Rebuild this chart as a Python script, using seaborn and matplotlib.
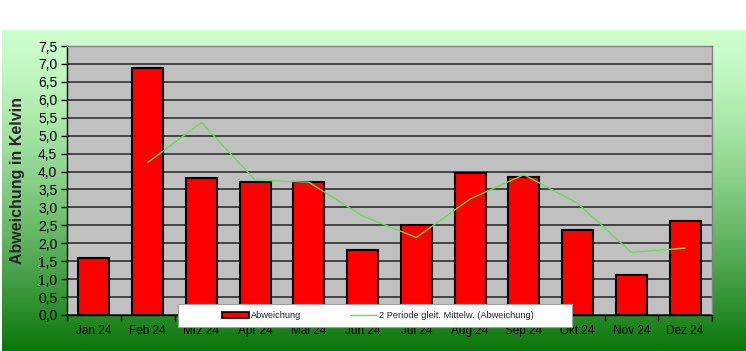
import numpy as np
import pandas as pd
import matplotlib
matplotlib.use('Agg')
import matplotlib.pyplot as plt
from matplotlib.patches import Patch, Rectangle
from matplotlib.lines import Line2D
from matplotlib.ticker import FuncFormatter, MultipleLocator
import seaborn as sns

months = ['Jan 24', 'Feb 24', 'Mrz 24', 'Apr 24', 'Mai 24', 'Jun 24',
          'Jul 24', 'Aug 24', 'Sep 24', 'Okt 24', 'Nov 24', 'Dez 24']
abweichung = [1.6, 6.9, 3.83, 3.7, 3.7, 1.82, 2.5, 3.97, 3.85, 2.38, 1.11, 2.62]

sns.set_theme(style='white')
plt.rcParams['font.family'] = ['Liberation Sans', 'DejaVu Sans']

df = pd.DataFrame({'Monat': months, 'Abweichung': abweichung})
# 2 Periode gleit. Mittelw.
df['Mittel'] = df['Abweichung'].rolling(2).mean()

fig = plt.figure(figsize=(7.46, 3.51), dpi=100)
fig.patch.set_facecolor('white')

# green gradient background
bg = fig.add_axes([2 / 746, 0, 744 / 746, 321 / 351], zorder=0)
t = np.linspace(0, 1, 256) ** 1.4
top = np.array([204, 255, 204]) / 255
bot = np.array([10, 118, 10]) / 255
grad = top[None, :] * (1 - t[:, None]) + bot[None, :] * t[:, None]
bg.imshow(grad[:, None, :], aspect='auto', extent=[0, 1, 0, 1])
bg.set_axis_off()

ax = fig.add_axes([67 / 746, 36 / 351, 645 / 746, 269 / 351], zorder=1)
ax.set_facecolor('#C0C0C0')

sns.barplot(data=df, x='Monat', y='Abweichung', ax=ax, color='#FF0000',
            saturation=1, width=0.58, edgecolor='black', linewidth=1.5, zorder=3)
ax.plot(np.arange(len(months)), df['Mittel'], color='#66DD55', lw=1.0, zorder=4)

ax.set_ylim(0, 7.5)
ax.set_xlim(-0.5, len(months) - 0.5)
ax.yaxis.set_major_locator(MultipleLocator(0.5))
ax.yaxis.set_major_formatter(FuncFormatter(lambda v, p: f'{v:.1f}'.replace('.', ',')))
ax.grid(axis='y', color='#3a3a3a', lw=1.3, zorder=1)
ax.set_axisbelow(True)

for s in ['top', 'right']:
    ax.spines[s].set_color('#808080')
    ax.spines[s].set_linewidth(1.0)
for s in ['left', 'bottom']:
    ax.spines[s].set_color('black')
    ax.spines[s].set_linewidth(1.0)

ax.tick_params(axis='y', direction='out', length=4, width=1, color='black',
               labelsize=10, pad=3, left=True)
ax.tick_params(axis='x', length=0, labelsize=8.5, pad=7)
ax.set_xticks(np.arange(-0.5, len(months), 1), minor=True)
ax.tick_params(axis='x', which='minor', direction='out', length=4, width=1,
               color='black', bottom=True)
ax.set_xlabel('')
ax.set_ylabel('Abweichung in Kelvin', fontsize=11.5, fontweight='bold', labelpad=9)
for lab in ax.get_xticklabels() + ax.get_yticklabels():
    lab.set_color('black')

# legend box (white frame) with entries centred inside
fig.patches.append(Rectangle((178 / 746, 24 / 351), 394 / 746, 23 / 351,
                             transform=fig.transFigure, facecolor='white',
                             edgecolor='#a0a0a0', lw=0.8, zorder=9))
handles = [Patch(facecolor='#FF0000', edgecolor='black', lw=1.2, label='Abweichung'),
           Line2D([0], [0], color='#66DD55', lw=1.0, label='2 Periode gleit. Mittelw. (Abweichung)')]
leg = fig.legend(handles=handles, loc='center', ncol=2,
                 bbox_to_anchor=(378 / 746, 35.5 / 351),
                 fontsize=6.7, frameon=False, handlelength=2.8, handleheight=0.6,
                 handletextpad=0.3, columnspacing=5.2, borderpad=0)
leg.set_zorder(10)

plt.savefig('out.png', dpi=100)
plt.close()
